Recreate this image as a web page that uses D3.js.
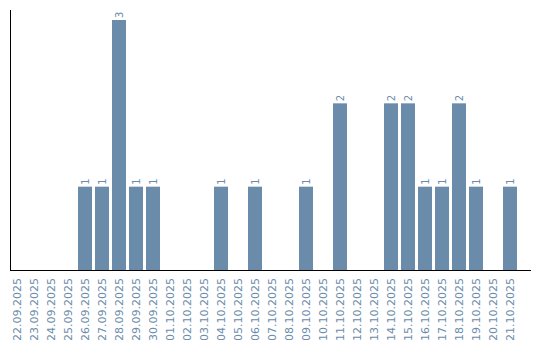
<!DOCTYPE html>
<html>
<head>
<meta charset="utf-8">
<script src="https://cdn.jsdelivr.net/npm/d3@7"></script>
<style>
  body { margin: 0; background: #fff; }
  text { font-family: "DejaVu Sans", Verdana, sans-serif; }
</style>
</head>
<body>
<div id="chart"></div>
<script>
const dates = [
    "22.09.2025", "23.09.2025", "24.09.2025", "25.09.2025", "26.09.2025",
    "27.09.2025", "28.09.2025", "29.09.2025", "30.09.2025", "01.10.2025",
    "02.10.2025", "03.10.2025", "04.10.2025", "05.10.2025", "06.10.2025",
    "07.10.2025", "08.10.2025", "09.10.2025", "10.10.2025", "11.10.2025",
    "12.10.2025", "13.10.2025", "14.10.2025", "15.10.2025", "16.10.2025",
    "17.10.2025", "18.10.2025", "19.10.2025", "20.10.2025", "21.10.2025"
];
const counts = [0, 0, 0, 0, 1, 1, 3, 1, 1, 0, 0, 0, 1, 0, 1, 0, 0, 1, 0, 2, 0, 0, 2, 2, 1, 1, 2, 1, 0, 1];

const buildChart = (chartId) => {
    const width = 540,
        height = 340,
        left = 10,
        bottom = 270,
        barColor = "#6a8caa",
        textColor = "#6a8caa";

    const data = dates.map((d, i) => ({ date: d, value: counts[i] }));

    const svg = d3.select(chartId)
        .append("svg")
        .attr("width", width)
        .attr("height", height);

    const x = d3.scaleBand()
        .domain(dates)
        .range([left, left + 17 * (dates.length + 3 / 17)])
        .paddingInner(3 / 17)
        .paddingOuter(3 / 17)
        .align(0);

    const y = d3.scaleLinear()
        .domain([0, 3])
        .range([bottom, 20]);

    svg.append("g").selectAll("rect")
        .data(data.filter(d => d.value > 0))
        .enter().append("rect")
        .attr("x", d => x(d.date))
        .attr("y", d => y(d.value))
        .attr("width", x.bandwidth())
        .attr("height", d => bottom - y(d.value))
        .attr("fill", barColor);

    // value labels above bars
    svg.append("g").selectAll("text")
        .data(data.filter(d => d.value > 0))
        .enter().append("text")
        .attr("transform", d => "translate(" + (x(d.date) + x.bandwidth() / 2) + "," + (y(d.value) - 2) + ")rotate(-90)")
        .attr("dy", "0.35em")
        .attr("text-anchor", "start")
        .attr("font-size", 10)
        .attr("fill", textColor)
        .text(d => d.value);

    // axes lines
    svg.append("line")
        .attr("x1", left + 0.5).attr("x2", left + 0.5)
        .attr("y1", 10).attr("y2", bottom)
        .attr("stroke", "#000");
    svg.append("line")
        .attr("x1", left).attr("x2", 531)
        .attr("y1", bottom + 0.5).attr("y2", bottom + 0.5)
        .attr("stroke", "#000");

    // date labels
    svg.append("g").selectAll("text")
        .data(dates)
        .enter().append("text")
        .attr("transform", d => "translate(" + (x(d) + x.bandwidth() / 2) + "," + (bottom + 8) + ")rotate(-90)")
        .attr("dy", "0.35em")
        .attr("text-anchor", "end")
        .attr("font-size", 11)
        .attr("fill", textColor)
        .text(d => d);

    return svg;
};

buildChart("#chart");
</script>
</body>
</html>
